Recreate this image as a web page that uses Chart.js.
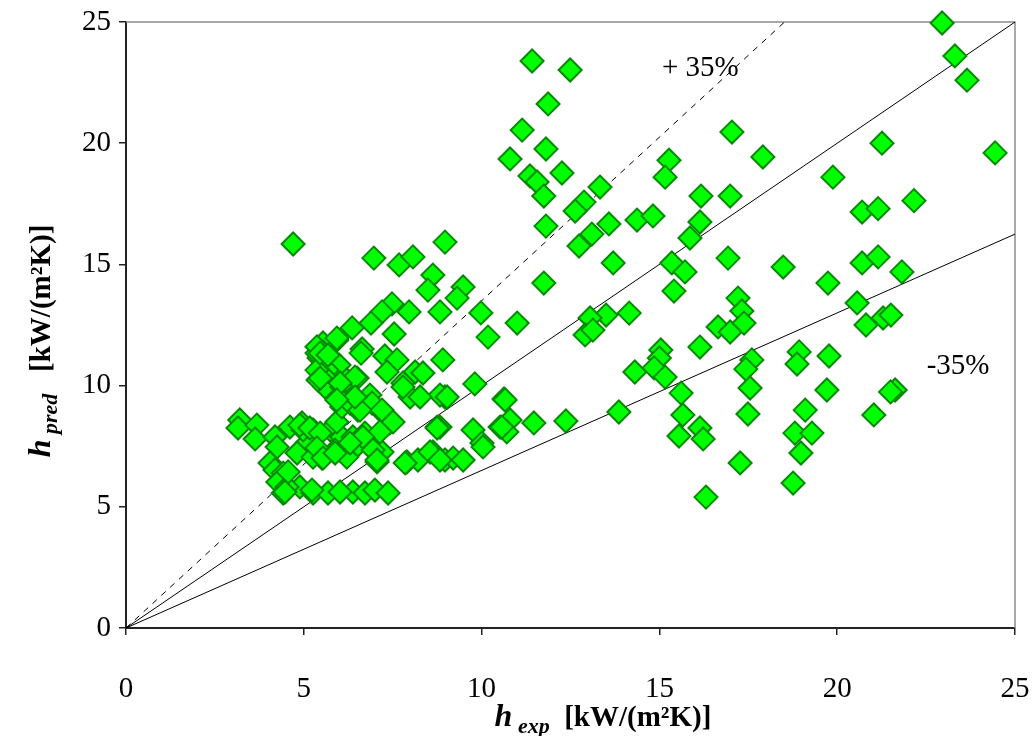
<!DOCTYPE html>
<html>
<head>
<meta charset="utf-8">
<script src="https://cdn.jsdelivr.net/npm/chart.js@4/dist/chart.umd.min.js"></script>
<style>
  html, body { margin: 0; padding: 0; background: #fff; }
  #wrap { width: 1034px; height: 736px; }
</style>
</head>
<body>
<div id="wrap"><canvas id="chart"></canvas></div>
<script>
// measured vs predicted heat transfer coefficient, kW/(m2K)
const hExp = [22.95, 23.31, 23.65, 24.44, 21.26, 19.88, 22.16, 20.70, 21.15, 18.48, 20.70, 21.15, 21.82, 19.74, 20.56, 20.81, 21.29, 21.51, 18.93, 18.87, 19.77, 19.71, 21.63, 21.50, 19.10, 21.03, 18.81, 19.29, 18.98, 18.76,
  17.91, 17.04, 15.27, 15.16, 16.17, 16.99, 13.33, 16.14, 15.86, 13.58, 14.37, 14.82, 13.70, 15.35, 15.72, 16.93, 15.41, 13.50, 14.15, 17.21, 17.32, 16.65, 16.99, 17.38, 16.14, 15.04, 15.00, 14.31, 14.85, 15.16, 17.60, 17.43, 17.55, 15.61, 13.86, 17.49, 15.66, 15.55, 16.14, 16.23, 17.27, 16.31,
  11.42, 12.49, 11.87, 11.14, 11.81, 10.80, 12.26, 11.36, 11.56, 11.75, 12.88, 12.63, 11.81, 13.10, 12.74, 8.97, 11.75, 9.48, 9.31, 9.98, 11.00, 10.18, 8.83, 13.05, 12.91, 13.13, 8.91, 9.81, 8.97, 8.83, 10.63, 9.76, 10.52, 10.80, 10.71, 11.47, 12.37, 8.83, 10.01,
  6.97, 7.68, 8.07, 8.63, 8.49, 7.96, 7.48, 7.20, 6.89, 6.36, 7.54, 5.93, 5.54, 6.64, 6.61, 7.28, 7.62, 5.54, 5.43, 5.99, 5.65, 7.34, 6.50, 5.68, 5.60, 6.07, 6.86, 8.13, 8.35, 7.79, 7.99, 8.27, 6.10, 6.52, 7.20, 7.42, 6.92, 8.75, 5.74, 6.07, 6.38, 6.72, 6.92, 7.20, 7.06, 6.52, 5.26, 4.95, 5.09, 5.51, 5.88, 6.21, 7.90, 8.21, 8.63, 8.97, 9.20, 9.48, 4.89, 5.26, 5.68, 6.38, 6.72, 7.00, 7.37, 6.02,
  4.70, 3.20, 3.15, 3.68, 3.63, 4.19, 4.25, 4.05, 4.19, 4.42, 4.27, 4.42, 4.53, 4.61, 4.98, 4.81, 5.23, 5.37, 5.37, 5.40, 5.37, 5.26,
  4.89, 5.17, 5.46, 5.93, 6.07, 6.30, 5.37, 5.54, 5.88, 4.56, 4.47,
  6.21, 6.44, 6.58, 7.20, 7.51, 7.14, 6.66, 6.30, 6.95, 7.06, 7.85, 8.55, 8.83, 8.75, 7.79, 9.03, 10.66, 10.04, 10.57,
  5.46, 5.68, 5.46, 6.02, 6.44, 5.93, 5.93];

const hPred = [24.96, 23.60, 22.60, 19.60, 20.00, 18.60, 17.63, 17.16, 17.30, 14.89, 15.06, 15.31, 14.69, 14.23, 13.41, 12.50, 12.79, 12.91, 11.39, 10.89, 11.22, 9.82, 9.82, 9.74, 8.99, 8.79, 8.04, 8.04, 7.22, 5.98,
  19.43, 20.46, 19.30, 18.60, 17.82, 17.82, 18.19, 16.75, 16.09, 16.67, 16.83, 17.00, 15.06, 15.06, 14.69, 15.26, 13.90, 12.91, 12.99, 13.61, 13.08, 12.42, 12.21, 12.58, 11.59, 11.47, 11.14, 10.56, 10.73, 10.35, 11.06, 10.68, 9.90, 9.69, 8.91, 8.83, 8.79, 7.92, 8.25, 7.80, 6.81, 5.40,
  23.39, 23.02, 21.62, 20.54, 19.76, 19.35, 18.77, 18.65, 18.40, 17.82, 17.57, 17.20, 16.58, 16.25, 15.76, 15.92, 14.23, 14.07, 13.61, 13.00, 12.58, 12.00, 13.04, 12.79, 12.09, 12.29, 11.06, 10.07, 9.53, 9.61, 9.45, 8.17, 8.29, 8.58, 8.09, 8.46, 8.54, 8.29, 7.63,
  15.26, 14.98, 15.31, 14.56, 13.94, 13.04, 13.37, 13.04, 12.58, 12.38, 12.13, 11.88, 11.76, 11.51, 11.34, 11.22, 11.06, 11.39, 11.14, 10.85, 10.64, 10.56, 10.31, 10.23, 9.94, 9.94, 9.61, 10.56, 10.52, 10.11, 9.53, 9.53, 9.32, 8.99, 8.91, 8.46, 9.28, 8.29, 8.17, 7.88, 7.88, 8.04, 7.47, 7.26, 6.85, 7.55, 8.17, 8.46, 7.63, 7.01, 7.34, 7.05, 6.85, 6.93, 7.26, 6.93, 7.01, 6.93, 5.82, 5.57, 5.57, 5.61, 5.57, 5.69, 5.57, 5.61,
  15.84, 8.58, 8.25, 8.37, 7.80, 7.88, 7.47, 6.81, 6.52, 6.39, 6.02, 5.57, 5.82, 8.29, 8.17, 7.22, 5.69, 11.34, 10.64, 10.23, 11.60, 7.05,
  8.37, 8.25, 8.04, 8.50, 9.12, 9.28, 7.43, 7.01, 7.22, 6.44, 5.61,
  10.23, 10.35, 8.99, 8.99, 8.50, 8.09, 7.88, 7.63, 7.34, 6.93, 6.81, 7.26, 6.93, 8.25, 9.94, 9.53, 9.41, 7.47, 8.29,
  11.34, 11.26, 10.31, 10.11, 9.53, 9.41, 11.96];

// reference lines: perfect agreement and +/-35 %
const perfectX = [0, 25];
const perfectY = [0, 25];
const plusX = [0, 18.52];
const plusY = [0, 25];
const minusX = [0, 25];
const minusY = [0, 16.25];

const tickValues = [0, 5, 10, 15, 20, 25];

const toPoints = (xs, ys) => xs.map((x, i) => ({ x: x, y: ys[i] }));

const SERIF = '"Liberation Serif", "Times New Roman", serif';

function drawRich(ctx, parts, cx, cy) {
  let total = 0;
  parts.forEach(p => { ctx.font = p.font; p.w = ctx.measureText(p.text).width; total += p.w; });
  let x = cx - total / 2;
  ctx.textBaseline = "alphabetic";
  ctx.textAlign = "left";
  parts.forEach(p => {
    ctx.font = p.font;
    ctx.fillText(p.text, x, cy + (p.dy || 0));
    x += p.w;
  });
}

const titleParts = (sub, gap) => [
  { text: "h", font: `italic bold 32px ${SERIF}` },
  { text: " " + sub, font: `italic bold 22px ${SERIF}`, dy: 7 },
  { text: gap + "[kW/(m²K)]", font: `bold 29px ${SERIF}` }
];

const decorations = {
  id: "decorations",
  beforeDatasetsDraw(chart) {
    const { ctx, chartArea: a } = chart;
    ctx.save();
    ctx.strokeStyle = "#8c8c8c";
    ctx.lineWidth = 1.5;
    ctx.beginPath();
    ctx.moveTo(a.left, a.top);
    ctx.lineTo(a.right, a.top);
    ctx.lineTo(a.right, a.bottom);
    ctx.stroke();
    ctx.restore();
  },
  afterDraw(chart) {
    const { ctx, scales } = chart;
    ctx.save();
    ctx.fillStyle = "#000";
    // line labels
    ctx.font = `29px ${SERIF}`;
    ctx.textAlign = "center";
    ctx.textBaseline = "middle";
    ctx.fillText("+ 35%", scales.x.getPixelForValue(16.15), scales.y.getPixelForValue(23.1));
    ctx.fillText("-35%", scales.x.getPixelForValue(23.4), scales.y.getPixelForValue(10.8));
    // axis titles
    drawRich(ctx, titleParts("exp", "  "), 603, 726);
    ctx.translate(50, 341);
    ctx.rotate(-Math.PI / 2);
    drawRich(ctx, titleParts("pred", "   "), 0, 0);
    ctx.restore();
  }
};

const axisCommon = {
  type: "linear",
  min: 0,
  max: 25,
  afterBuildTicks: s => { s.ticks = tickValues.map(v => ({ value: v })); },
  grid: { drawOnChartArea: false, drawTicks: true, tickLength: 7, color: "#222", lineWidth: 1.5 },
  border: { display: true, color: "#222", width: 2 },
  ticks: { color: "#000", font: { family: SERIF, size: 29 } }
};

new Chart(document.getElementById("chart"), {
  type: "scatter",
  data: {
    datasets: [
      {
        label: "data",
        data: toPoints(hExp, hPred),
        pointStyle: "rectRot",
        pointRadius: 11.5,
        backgroundColor: "#00ff00",
        borderColor: "#008a00",
        borderWidth: 2,
        clip: false,
        order: 0
      },
      {
        label: "h_pred = h_exp",
        data: toPoints(perfectX, perfectY),
        showLine: true,
        pointRadius: 0,
        borderColor: "#000",
        borderWidth: 1,
        order: 1
      },
      {
        label: "+35%",
        data: toPoints(plusX, plusY),
        showLine: true,
        pointRadius: 0,
        borderColor: "#000",
        borderWidth: 1,
        borderDash: [6, 6],
        order: 1
      },
      {
        label: "-35%",
        data: toPoints(minusX, minusY),
        showLine: true,
        pointRadius: 0,
        borderColor: "#000",
        borderWidth: 1,
        order: 1
      }
    ]
  },
  options: {
    responsive: true,
    maintainAspectRatio: false,
    animation: false,
    layout: { padding: { left: 0, right: 19, top: 22, bottom: 0 } },
    plugins: { legend: { display: false }, tooltip: { enabled: false } },
    scales: {
      x: Object.assign({}, axisCommon, {
        ticks: Object.assign({}, axisCommon.ticks, { padding: 37, maxRotation: 0 }),
        afterFit: s => { s.height = 108; s.paddingLeft = 0; s.paddingRight = 0; }
      }),
      y: Object.assign({}, axisCommon, {
        ticks: Object.assign({}, axisCommon.ticks, { padding: 8 }),
        afterFit: s => { s.width = 126; s.paddingTop = 0; s.paddingBottom = 0; }
      })
    }
  },
  plugins: [decorations]
});
</script>
</body>
</html>
